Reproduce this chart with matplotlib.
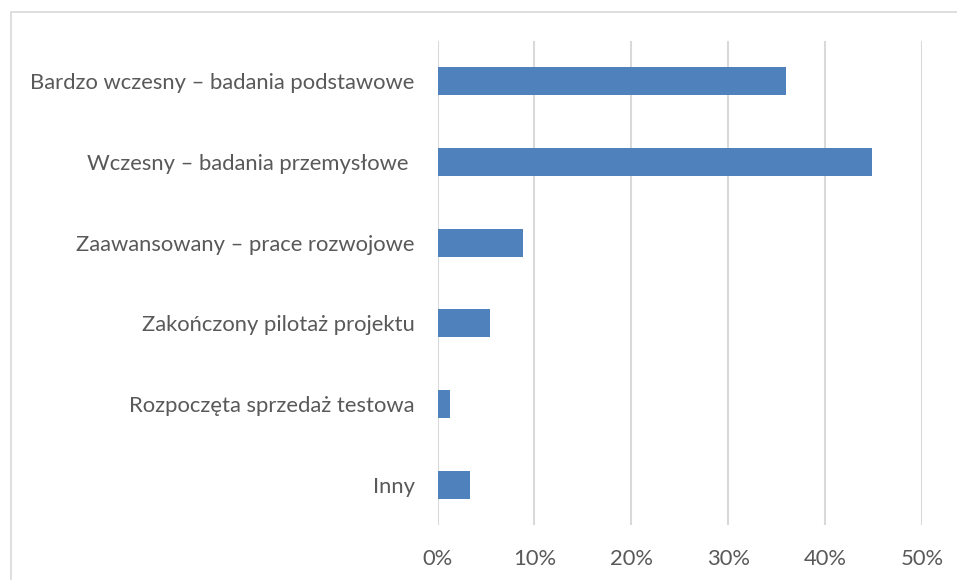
import matplotlib
matplotlib.use("Agg")
import matplotlib.pyplot as plt
from matplotlib.patches import Rectangle
from matplotlib.ticker import FuncFormatter, MultipleLocator

# Project stage shares, top to bottom
stages = [
    "Bardzo wczesny – badania podstawowe",
    "Wczesny – badania przemysłowe ",
    "Zaawansowany – prace rozwojowe",
    "Zakończony pilotaż projektu",
    "Rozpoczęta sprzedaż testowa",
    "Inny",
]
shares = [0.360, 0.448, 0.088, 0.054, 0.013, 0.034]

BAR_COLOR = "#4F81BD"
GRID_COLOR = "#D9D9D9"
TEXT_COLOR = "#595959"

plt.rcParams["font.family"] = ["Lato", "DejaVu Sans"]

fig = plt.figure(figsize=(9.57, 5.8), dpi=100)
ax = fig.add_axes([0.4572, 0.0948, 0.5062, 0.8345])

y = range(len(stages))
ax.barh(y, shares, height=0.35, color=BAR_COLOR, zorder=3)
ax.set_ylim(len(stages) - 0.5, -0.5)
ax.set_xlim(0, 0.5)

ax.xaxis.set_major_locator(MultipleLocator(0.1))
ax.xaxis.set_major_formatter(FuncFormatter(lambda v, _: f"{v * 100:.0f}%"))
ax.set_yticks(list(y))
ax.set_yticklabels(stages)
ax.tick_params(axis="y", length=0, pad=16.5, labelsize=15.8, labelcolor=TEXT_COLOR)
ax.tick_params(axis="x", length=0, pad=17, labelsize=15.8, labelcolor=TEXT_COLOR)

ax.grid(axis="x", color=GRID_COLOR, linewidth=1.5, zorder=0)
for spine in ax.spines.values():
    spine.set_visible(False)

# Outer chart frame
fig.patches.append(Rectangle((11 / 957, -0.01), 2, 1 - 12 / 580 + 0.01,
                             transform=fig.transFigure, fill=False,
                             edgecolor=GRID_COLOR, linewidth=1.2))

fig.savefig("out.png", dpi=100, facecolor="white")
